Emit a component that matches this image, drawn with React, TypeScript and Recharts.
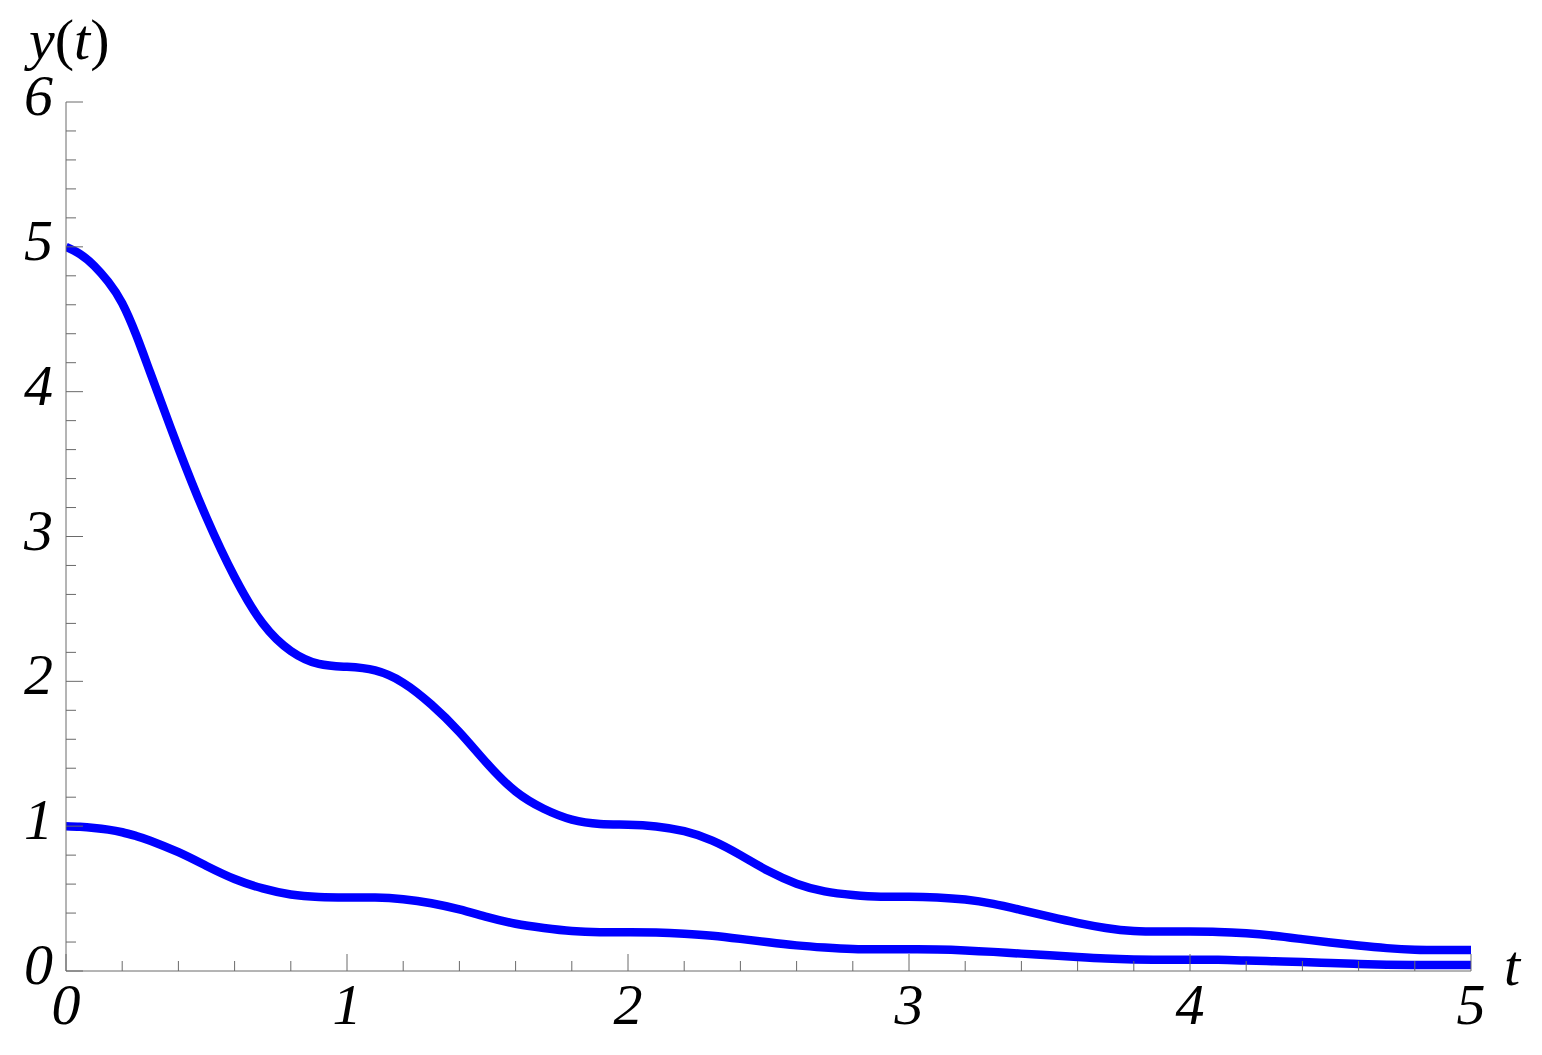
import React from "react";
import { LineChart, Line, XAxis, YAxis } from "recharts";

const tValues = [
  0.0, 0.05, 0.1, 0.15, 0.2, 0.25, 0.3, 0.4, 0.5, 0.6, 0.7, 0.8, 0.9,
  1.0, 1.1, 1.2, 1.3, 1.4, 1.5, 1.6, 1.7, 1.8, 1.9,
  2.0, 2.1, 2.2, 2.3, 2.4, 2.5, 2.6, 2.7, 2.8, 2.9,
  3.0, 3.1, 3.2, 3.3, 3.4, 3.5, 3.6, 3.7, 3.8, 3.9,
  4.0, 4.1, 4.2, 4.3, 4.4, 4.5, 4.6, 4.7, 4.8, 4.9,
  5.0,
];

const upperValues = [
  5.0, 4.95, 4.87, 4.76, 4.61, 4.39, 4.13, 3.61, 3.13, 2.72, 2.4, 2.21, 2.12,
  2.1, 2.075, 1.99, 1.84, 1.65, 1.43, 1.24, 1.12, 1.045, 1.015,
  1.01, 0.998, 0.965, 0.9, 0.8, 0.69, 0.603, 0.55, 0.525, 0.513,
  0.513, 0.508, 0.493, 0.463, 0.42, 0.375, 0.332, 0.297, 0.276, 0.272,
  0.272, 0.27, 0.26, 0.243, 0.22, 0.197, 0.176, 0.158, 0.147, 0.145,
  0.145,
];

const lowerValues = [
  1.0, 0.996, 0.988, 0.976, 0.958, 0.932, 0.9, 0.82, 0.725, 0.635, 0.57, 0.528, 0.511,
  0.508, 0.507, 0.495, 0.468, 0.425, 0.372, 0.326, 0.297, 0.276, 0.268,
  0.268, 0.266, 0.258, 0.244, 0.222, 0.198, 0.177, 0.162, 0.152, 0.15,
  0.15, 0.148, 0.142, 0.132, 0.12, 0.109, 0.097, 0.086, 0.08, 0.078,
  0.078, 0.077, 0.072, 0.067, 0.062, 0.055, 0.049, 0.044, 0.041, 0.041,
  0.041,
];

const xTicks = [
  0, 0.2, 0.4, 0.6, 0.8, 1, 1.2, 1.4, 1.6, 1.8, 2, 2.2, 2.4, 2.6, 2.8,
  3, 3.2, 3.4, 3.6, 3.8, 4, 4.2, 4.4, 4.6, 4.8, 5,
];
const yTicks = [
  0, 0.2, 0.4, 0.6, 0.8, 1, 1.2, 1.4, 1.6, 1.8, 2, 2.2, 2.4, 2.6, 2.8,
  3, 3.2, 3.4, 3.6, 3.8, 4, 4.2, 4.4, 4.6, 4.8, 5, 5.2, 5.4, 5.6, 5.8, 6,
];

const data = tValues.map((t, i) => ({
  t,
  upper: upperValues[i],
  lower: lowerValues[i],
}));

const FONT = "Liberation Serif";
const AXIS_COLOR = "#6a6a6a";
const FONT_SIZE = 58;

const textStyle = (italic: boolean): React.CSSProperties => ({
  fontFamily: '"Liberation Serif", "Times New Roman", serif',
  fontStyle: italic ? "italic" : "normal",
  fontSize: FONT_SIZE,
});

const isMajor = (v: number) => Math.abs(v - Math.round(v)) < 1e-6;

const YTick = (props: any) => {
  const { x, y, payload } = props;
  const v = payload.value;
  const major = isMajor(v);
  return (
    <g>
      <line x1={x} x2={x + (major ? 17 : 10)} y1={y} y2={y} stroke={AXIS_COLOR} strokeWidth={1} />
      {major && (
        <text x={x - 13} y={y + 13} textAnchor="end" fontFamily={FONT} style={textStyle(true)} fill="#000">
          {Math.round(v)}
        </text>
      )}
    </g>
  );
};

const XTick = (props: any) => {
  const { x, y, payload } = props;
  const v = payload.value;
  const major = isMajor(v);
  return (
    <g>
      <line x1={x} x2={x} y1={y} y2={y - (major ? 17 : 10)} stroke={AXIS_COLOR} strokeWidth={1} />
      {major && (
        <text x={x} y={y + 53} textAnchor="middle" fontFamily={FONT} style={textStyle(true)} fill="#000">
          {Math.round(v)}
        </text>
      )}
    </g>
  );
};

const YLabel = (props: any) => {
  const vb = props.viewBox || {};
  return (
    <text x={vb.x + vb.width - 37} y={vb.y - 43} fontFamily={FONT} style={textStyle(false)} fill="#000">
      <tspan style={{ fontStyle: "italic" }}>y</tspan>
      <tspan>(</tspan>
      <tspan style={{ fontStyle: "italic" }}>t</tspan>
      <tspan>)</tspan>
    </text>
  );
};

const XLabel = (props: any) => {
  const vb = props.viewBox || {};
  return (
    <text x={vb.x + vb.width + 33} y={vb.y + 14} fontFamily={FONT} style={textStyle(true)} fill="#000">
      t
    </text>
  );
};

export default function App() {
  return (
    <div style={{ position: "absolute", left: 0, top: 0, width: 1542, height: 1055, background: "#fff" }}>
      <LineChart
        width={1542}
        height={1055}
        data={data}
        margin={{ top: 102, right: 71, bottom: 83, left: 65 }}
      >
        <XAxis
          dataKey="t"
          type="number"
          domain={[0, 5]}
          ticks={xTicks}
          interval={0}
          height={1}
          tickSize={0}
          tickMargin={0}
          tick={<XTick />}
          axisLine={{ stroke: AXIS_COLOR, strokeWidth: 1 }}
          tickLine={false}
          allowDataOverflow
          label={<XLabel />}
        />
        <YAxis
          type="number"
          domain={[0, 6]}
          ticks={yTicks}
          interval={0}
          width={1}
          tickSize={0}
          tickMargin={0}
          tick={<YTick />}
          axisLine={{ stroke: AXIS_COLOR, strokeWidth: 1 }}
          tickLine={false}
          allowDataOverflow
          label={<YLabel />}
        />
        <Line
          type="natural"
          dataKey="upper"
          stroke="#0000ff"
          strokeWidth={8.5}
          dot={false}
          activeDot={false}
          isAnimationActive={false}
        />
        <Line
          type="natural"
          dataKey="lower"
          stroke="#0000ff"
          strokeWidth={8.5}
          dot={false}
          activeDot={false}
          isAnimationActive={false}
        />
      </LineChart>
    </div>
  );
}
